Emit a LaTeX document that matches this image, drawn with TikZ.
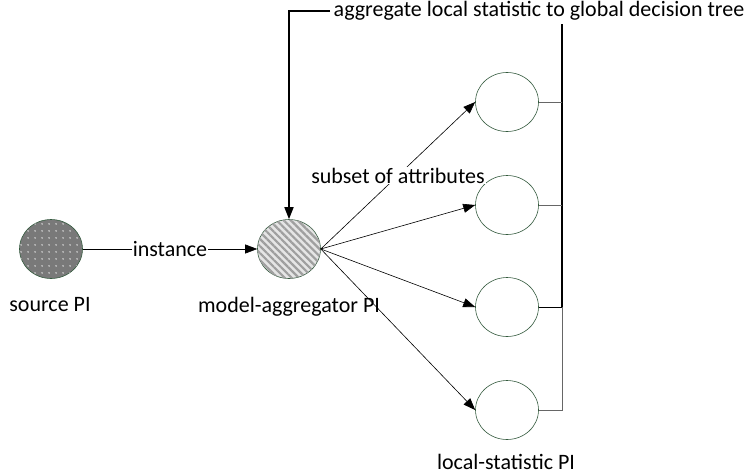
\documentclass[tikz,border=0pt]{standalone}
\usepackage{fontspec}
\setmainfont{Carlito}
\usepackage{tikz}
\usetikzlibrary{arrows.meta,positioning,patterns.meta,shapes.geometric}
\definecolor{pigreen}{RGB}{52,90,62}

\begin{document}
\begin{tikzpicture}[
    x=1pt, y=-1pt,
    font=\fontsize{22}{26}\selectfont,
    pi/.style={ellipse, draw=pigreen, semithick, minimum width=63pt, minimum height=59pt, inner sep=0pt},
    sourcepi/.style={pi, fill=gray!95!black, postaction={pattern={Dots[distance=6.5pt, radius=0.9pt, xshift=2pt]}, pattern color=white!80!gray}},
    aggpi/.style={pi, fill=gray!20, postaction={pattern={Lines[angle=-45, distance=5pt, line width=2.2pt]}, pattern color=gray!75}},
    pilbl/.style={anchor=base, inner sep=1pt},
    lbl/.style={fill=white, inner sep=1pt},
    arr/.style={-{Triangle[length=12pt, width=9pt]}, semithick},
    bus/.style={line width=1.6pt},
    tap/.style={semithick, black!60}
]
\useasboundingbox (0,0) rectangle (749,474);

\node[sourcepi] (source) at (51,249) {};
\node[aggpi] (agg) at (289,249) {};
\node[pi] (ls1) at (507,102) {};
\node[pi] (ls2) at (507,205) {};
\node[pi] (ls3) at (507,307) {};
\node[pi] (ls4) at (507,410) {};

\node[pilbl] (sourcelbl) at (50,311) {source PI};
\node[pilbl] (agglbl) at (289,312) {model-aggregator PI};
\node[pilbl] (lslbl) at (506,469) {local-statistic PI};
\node (aggtext) at (539,11) {aggregate local statistic to global decision tree};
\coordinate (bus) at (562,0);

\draw[arr] (source.east) -- node[lbl]{instance} (agg.west);
\draw[arr] (agg.east) -- node[lbl]{subset of attributes} (ls1.west);
\draw[arr] (agg.east) -- (ls2.west);
\draw[arr] (agg.east) -- (ls3.west);
\draw[arr] (agg.east) -- (ls4.west);

% local statistics back to the aggregator
\draw[bus] (aggtext.south -| bus) -- (bus |- ls3);
\draw[tap] (bus |- ls3) -- (bus |- ls4) -- (ls4.east);
\draw[tap] (ls1.east) -- (ls1 -| bus);
\draw[tap] (ls2.east) -- (ls2 -| bus);
\draw[semithick] (ls3.east) -- (ls3 -| bus);
\draw[bus, -{Triangle[length=12pt, width=9pt]}] (aggtext.west) -| (agg.north);

\end{tikzpicture}
\end{document}
